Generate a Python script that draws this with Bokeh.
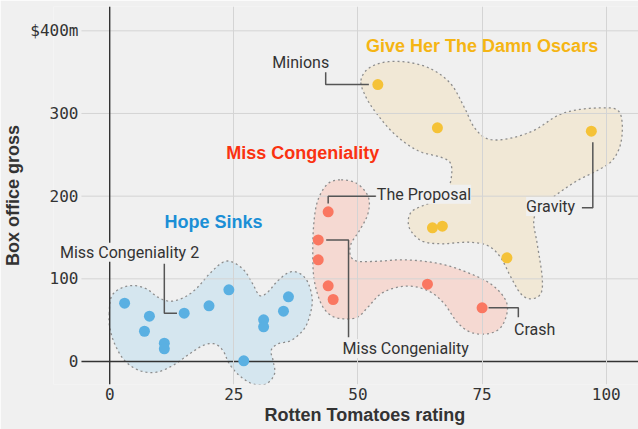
import numpy as np
from bokeh.plotting import figure
from bokeh.models import Span, Label, FixedTicker, Range1d, Title
from bokeh.embed import file_html
from bokeh.resources import INLINE

# ---------------- data ----------------
hope_rt = [3, 7, 8, 11, 11, 15, 20, 24, 27, 31, 31, 35, 36]
hope_gross = [70.5, 36.6, 54.8, 22.1, 15.3, 58.4, 67.3, 86.7, 0.8, 50.4, 41.9, 60.9, 78.2]

miss_rt = [44, 42, 42, 44, 45, 64, 75]
miss_gross = [181, 147, 123, 91.5, 75, 93.5, 65]

oscar_rt = [54, 66, 97, 65, 67, 80]
oscar_gross = [335, 282.6, 278.6, 161.7, 163.7, 125.4]

x_ticks = [0, 25, 50, 75, 100]
y_ticks = [0, 100, 200, 300, 400]
y_tick_labels = ["0", "100", "200", "300", "$400m"]

group_names = ["Hope Sinks", "Miss Congeniality", "Give Her The Damn Oscars"]

# outlines of the hand-drawn group blobs (rating, gross)
hope_blob_x = [-0.1, 0.3, 2.0, 4.7, 7.4, 9.7, 12.1, 14.8, 17.4, 20.1, 22.8, 24.8, 27.1, 28.8, 30.2, 31.8,
               33.9, 36.2, 38.2, 39.9, 40.8, 40.1, 38.9, 36.5, 33.9, 32.5, 32.9, 33.2, 31.5, 28.8, 26.1,
               24.1, 22.8, 21.1, 18.8, 16.1, 12.7, 9.4, 6.0, 3.0, 1.0, 0.0]
hope_blob_y = [57.7, 77.8, 87.9, 91.9, 87.9, 77.8, 72.9, 77.0, 87.9, 106.1, 120.1, 120.1, 110.1, 94.0, 79.8,
               83.8, 98.0, 108.0, 106.8, 95.9, 73.8, 51.6, 37.5, 25.4, 21.4, 13.3, 1.2, -14.9, -27.0, -27.0,
               -16.9, -2.8, 13.3, 21.4, 19.4, 9.3, -4.8, -12.9, -10.9, 1.2, 21.4, 41.5]

miss_blob_x = [46.6, 49.9, 52.1, 52.0, 50.3, 48.6, 48.5, 49.9, 54.0, 58.6, 63.3, 68.0, 72.7, 76.7, 79.4,
               80.1, 78.8, 76.1, 72.7, 70.0, 67.4, 64.7, 61.3, 58.0, 54.6, 52.0, 49.9, 47.2, 44.6, 42.6,
               41.2, 40.9, 41.1, 41.9, 43.9]
miss_blob_y = [219.8, 214.9, 198.7, 178.6, 158.4, 142.3, 128.1, 121.3, 121.3, 123.0, 121.3, 116.1, 106.1,
               94.0, 77.8, 61.7, 41.5, 33.5, 35.4, 47.5, 69.8, 83.8, 90.7, 89.9, 81.9, 65.7, 53.6, 51.6,
               55.6, 69.8, 98.0, 130.3, 166.5, 194.7, 214.9]

oscar_blob_x = [50.6, 52.0, 55.3, 60.0, 64.7, 68.7, 71.4, 73.4, 76.1, 80.1, 85.4, 90.2, 94.2, 98.9, 102.2,
                103.2, 102.9, 101.2, 98.2, 94.2, 90.2, 86.8, 85.4, 86.1, 87.1, 86.8, 84.8, 82.8, 80.8,
                78.7, 76.1, 72.1, 66.7, 62.7, 60.3, 60.7, 64.0, 67.4, 68.7, 68.7, 66.7, 62.0, 57.3, 53.3,
                51.3]
oscar_blob_y = [339.9, 354.0, 362.0, 362.0, 354.0, 335.9, 307.6, 283.4, 269.4, 269.4, 279.4, 297.5, 304.4,
                306.8, 304.4, 289.4, 263.3, 243.1, 231.0, 218.9, 202.8, 186.6, 170.5, 142.4, 102.0, 81.9,
                75.8, 81.9, 102.0, 126.1, 140.3, 144.3, 142.4, 146.3, 162.4, 180.6, 190.7, 198.7, 218.9,
                239.1, 247.1, 255.2, 275.4, 303.6, 323.8]

# ---------------- styles ----------------
BG = "#f0f0f0"
TXT = "#333333"
LEAD = "#555555"
GRID = "#d4d4d4"
SANS = "Roboto"
BOLD = "Liberation Sans"
MONO = "DejaVu Sans Mono"

point_colors = ["#5ab0e2", "#fa7761", "#f5c237"]
blob_fills = ["#d5e6ef", "#f5d9d2", "#f1e8d6"]
title_colors = ["#1b8fd6", "#fa3210", "#f5b514"]

X0, X1 = -11.32, 106.5
Y0, Y1 = -27.8, 429.4
GRID_X_START = -5.69


def smooth_closed(xs, ys, n=10):
    P = np.column_stack([xs, ys]).astype(float)
    m = len(P)
    out = []
    for i in range(m):
        p0, p1, p2, p3 = P[(i - 1) % m], P[i], P[(i + 1) % m], P[(i + 2) % m]
        for t in np.linspace(0, 1, n, endpoint=False):
            t2, t3 = t * t, t * t * t
            out.append(0.5 * ((2 * p1) + (-p0 + p2) * t + (2 * p0 - 5 * p1 + 4 * p2 - p3) * t2
                              + (-p0 + 3 * p1 - 3 * p2 + p3) * t3))
    out = np.array(out)
    return out[:, 0], out[:, 1]


p = figure(width=638, height=429, output_backend="svg", toolbar_location=None,
           x_range=Range1d(X0, X1), y_range=Range1d(Y0, Y1),
           min_border_left=52, min_border_right=0, min_border_top=6, min_border_bottom=45,
           background_fill_color=BG, border_fill_color=BG, outline_line_color=None)

# axes
p.xaxis.ticker = FixedTicker(ticks=x_ticks)
p.yaxis.ticker = FixedTicker(ticks=y_ticks)
p.yaxis.major_label_overrides = {t: l for t, l in zip(y_ticks, y_tick_labels)}
for ax in (p.xaxis[0], p.yaxis[0]):
    ax.axis_line_color = None
    ax.major_tick_line_color = None
    ax.minor_tick_line_color = None
    ax.major_tick_out = 0
    ax.major_tick_in = 0
    ax.minor_tick_out = 0
    ax.major_label_text_font = MONO
    ax.major_label_text_font_size = "16px"
    ax.major_label_text_color = TXT
    ax.axis_label_text_font = BOLD
    ax.axis_label_text_font_size = "18px"
    ax.axis_label_text_font_style = "bold"
    ax.axis_label_text_color = TXT
p.yaxis.axis_label = "Box office gross"
p.xaxis.major_label_standoff = 3
p.yaxis.major_label_standoff = -25
p.yaxis.axis_label_standoff = 4

# x-axis title, set under the plotted area (right of the y labels)
p.add_layout(Title(text="Rotten Tomatoes rating", align="left", offset=211, standoff=0,
                   text_font=BOLD, text_font_size="18px", text_font_style="bold",
                   text_color=TXT), "below")

p.xgrid.grid_line_color = GRID
p.xgrid.grid_line_width = 1
p.ygrid.visible = False
# horizontal grid lines start right of the tick labels, as in the original
p.segment(x0=GRID_X_START, y0=y_ticks[1:], x1=X1, y1=y_ticks[1:], line_color=GRID, line_width=1,
          level="underlay")
p.segment(x0=[GRID_X_START], y0=[0], x1=[X1], y1=[0], line_color=TXT, line_width=1.4, level="underlay")
p.add_layout(Span(location=0, dimension="height", line_color=TXT, line_width=1.4, level="underlay"))

# blobs
for bx, by, fc in [(hope_blob_x, hope_blob_y, blob_fills[0]),
                   (miss_blob_x, miss_blob_y, blob_fills[1]),
                   (oscar_blob_x, oscar_blob_y, blob_fills[2])]:
    sx, sy = smooth_closed(bx, by)
    p.patch(sx, sy, fill_color=fc, line_color="#8c8c8c", line_width=1.3, line_dash="2 3", level="image")

# leader lines (elbows anchored to the labelled films)
mc2 = (hope_rt[5], hope_gross[5])
prop = (miss_rt[0], miss_gross[0])
mc = (miss_rt[1], miss_gross[1])
crash = (miss_rt[6], miss_gross[6])
minions = (oscar_rt[0], oscar_gross[0])
gravity = (oscar_rt[2], oscar_gross[2])

leaders = [
    ([43.5, 43.5, minions[0] - 1.8], [349.9, minions[1], minions[1]]),
    ([11.0, 11.0, mc2[0] - 1.45], [118.2, mc2[1], mc2[1]]),
    ([prop[0], prop[0], 53.6], [prop[1] + 10, 200.0, 200.0]),
    ([mc[0] + 1.6, 48.1, 48.1], [mc[1], mc[1], 29.4]),
    ([crash[0] + 1.3, 82.3, 82.3], [crash[1], crash[1], 53.6]),
    ([gravity[0] + 0.3, gravity[0] + 0.3, 95.1], [gravity[1] - 13.4, 185.9, 185.9]),
]
for lx, ly in leaders:
    p.line(lx, ly, line_color=LEAD, line_width=1.5)

# points
for xs, ys, c in [(hope_rt, hope_gross, point_colors[0]),
                  (miss_rt, miss_gross, point_colors[1]),
                  (oscar_rt, oscar_gross, point_colors[2])]:
    p.scatter(xs, ys, size=11, fill_color=c, line_color=None)

# film labels
film_labels = [
    ("Minions", 44.2, 361.6, "right"),
    ("Miss Congeniality 2", 4.0, 132.2, "center"),
    ("The Proposal", 53.8, 202.3, "left"),
    ("Miss Congeniality", 59.6, 15.8, "center"),
    ("Crash", 85.6, 38.7, "center"),
    ("Gravity", 88.8, 187.5, "center"),
]
for t, lx, ly, al in film_labels:
    p.add_layout(Label(x=lx, y=ly, text=t, text_align=al, text_baseline="middle",
                       text_font=SANS, text_font_size="16px", text_color=TXT,
                       background_fill_color=BG))

# group titles
group_pos = [(20.9, 169.3), (38.9, 252.0), (75.0, 382.2)]
for name, (gx, gy), c in zip(group_names, group_pos, title_colors):
    p.add_layout(Label(x=gx, y=gy, text=name, text_align="center", text_baseline="middle",
                       text_font=BOLD, text_font_size="18px", text_font_style="bold",
                       text_color=c))

open("out.html", "w").write(file_html(p, INLINE))
